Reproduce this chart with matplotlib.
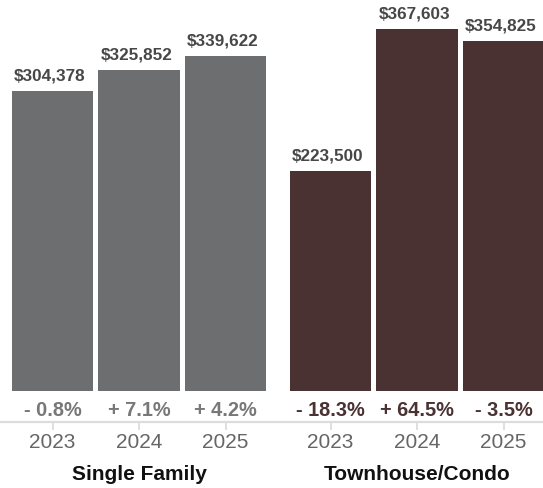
import matplotlib
matplotlib.use("Agg")
import matplotlib.pyplot as plt

# Median sale price by year, two property types
years = ["2023", "2024", "2025"]
groups = ["Single Family", "Townhouse/Condo"]
single_family = [304378, 325852, 339622]
townhouse_condo = [223500, 367603, 354825]
sf_change = ["- 0.8%", "+ 7.1%", "+ 4.2%"]
tc_change = ["- 18.3%", "+ 64.5%", "- 3.5%"]

plt.rcParams["font.family"] = ["Liberation Sans", "DejaVu Sans"]

W, H = 543, 488
fig = plt.figure(figsize=(W / 100, H / 100), dpi=100)
ax = fig.add_axes([0, 0, 1, 1])

# vertical scale: value units per pixel, baseline at pixel row 391
per_px = 1015.0
base_row = 391


def row(py):
    """Convert a pixel row (from top) to a data y value."""
    return (base_row - py) * per_px


step = 86.5
left_px = 52.5
group_offset = 278 / step
ax.set_xlim(-left_px / step, (W - left_px) / step)
ax.set_ylim(row(H), row(0))
ax.axis("off")

colors = ["#6d6e70", "#4a3132"]
pct_colors = ["#787878", "#4a3132"]
series = [single_family, townhouse_condo]
changes = [sf_change, tc_change]
label_shift = -2.5 / step

for g, (vals, chg) in enumerate(zip(series, changes)):
    xs = [i + g * group_offset for i in range(len(vals))]
    ax.bar(xs, vals, width=0.945, color=colors[g], zorder=2)
    for x, v, c, yr in zip(xs, vals, chg, years):
        ax.text(x + label_shift, v + 15 * per_px, f"${v:,}", ha="center",
                va="center", fontsize=12.3, fontweight="bold", color="#474747")
        ax.text(x, row(410.7), c, ha="center", va="center",
                fontsize=14.4, fontweight="bold", color=pct_colors[g])
        ax.plot([x, x], [row(422.3), row(428.5)], color="#dcdcdc", lw=1.3)
        ax.text(x, row(443), yr, ha="center", va="center",
                fontsize=15, color="#666666")
    ax.text(xs[1], row(474), groups[g], ha="center", va="center",
            fontsize=15, fontweight="bold", color="#111111")

ax.plot(ax.get_xlim(), [row(422.3), row(422.3)], color="#dcdcdc", lw=1.6)
ax.set_xlim(-left_px / step, (W - left_px) / step)

fig.savefig("out.png", dpi=100)
